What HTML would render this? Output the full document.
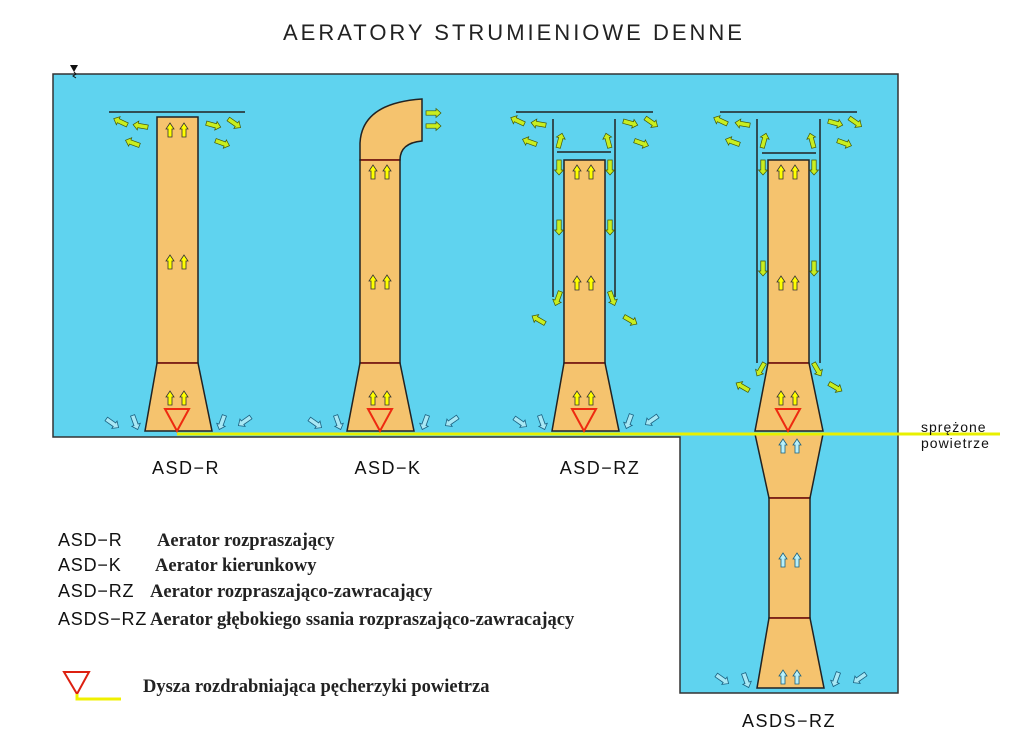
<!DOCTYPE html>
<html><head><meta charset="utf-8"><style>
html,body{margin:0;padding:0;background:#fff;}
svg{display:block}
</style></head><body>
<svg width="1013" height="740" viewBox="0 0 1013 740" xmlns="http://www.w3.org/2000/svg">
<defs>
<path id="up" d="M0,-7 L4,-1 L2,-1 L2,7 L-2,7 L-2,-1 L-4,-1 Z" fill="#ffff00" stroke="#333" stroke-width="0.8"/>
<path id="bup" d="M0,-7 L4,-1 L2,-1 L2,7 L-2,7 L-2,-1 L-4,-1 Z" fill="#b8f0fa" stroke="#1a6080" stroke-width="0.8"/>
<path id="fl" d="M8,0 L3,-4.5 L3,-2.2 L-7,-2.2 L-7,2.2 L3,2.2 L3,4.5 Z" fill="#c8ee20" stroke="#445500" stroke-width="0.7"/>
<path id="bfl" d="M8,0 L3,-4.5 L3,-2.2 L-7,-2.2 L-7,2.2 L3,2.2 L3,4.5 Z" fill="#a8e8f5" stroke="#1a6080" stroke-width="0.8"/>
</defs>
<text x="514" y="40" font-family="Liberation Sans, sans-serif" font-size="22" text-anchor="middle" fill="#222" letter-spacing="3">AERATORY STRUMIENIOWE DENNE</text>
<path d="M53,74 L898,74 L898,693 L680,693 L680,437 L53,437 Z" fill="#5fd3ef" stroke="#333" stroke-width="1.5"/>
<path d="M70,65 L78,65 L74,72 Z" fill="#111"/>
<path d="M74,72 l2,2 l-3,2 l3,2" stroke="#111" fill="none"/>
<g stroke="#222" stroke-width="1.5" fill="#f5c36e">
<line x1="109" y1="112" x2="245" y2="112"/>
<rect x="157" y="117" width="41" height="246"/>
<path d="M157,363 L198,363 L212,431 L145,431 Z"/>
<path d="M360,160 L360,143 Q362,103 422,99 L422,141 Q400,143 400,160 Z"/>
<rect x="360" y="160" width="40" height="203"/>
<path d="M360,363 L400,363 L414,431 L347,431 Z"/>
<line x1="516" y1="112" x2="653" y2="112"/>
<line x1="557" y1="152" x2="611" y2="152"/>
<line x1="553" y1="119" x2="553" y2="297" fill="none"/>
<line x1="615" y1="119" x2="615" y2="297" fill="none"/>
<rect x="564" y="160" width="41" height="203"/>
<path d="M564,363 L605,363 L619,431 L552,431 Z"/>
<line x1="720" y1="112" x2="857" y2="112"/>
<line x1="762" y1="153" x2="816" y2="153"/>
<line x1="757" y1="119" x2="757" y2="363"/>
<line x1="820" y1="119" x2="820" y2="363"/>
<rect x="768" y="160" width="41" height="203"/>
<path d="M768,363 L809,363 L823,431 L755,431 Z"/>
<path d="M755,434 L823,434 L810,498 L769,498 Z"/>
<rect x="769" y="498" width="41" height="120"/>
<path d="M769,618 L810,618 L824,688 L757,688 Z"/>
</g>
<g stroke="#8a1a10" stroke-width="1.5">
<line x1="158" y1="363" x2="197" y2="363"/><line x1="361" y1="363" x2="399" y2="363"/>
<line x1="565" y1="363" x2="604" y2="363"/><line x1="769" y1="363" x2="808" y2="363"/>
<line x1="770" y1="498" x2="809" y2="498"/><line x1="770" y1="618" x2="809" y2="618"/>
<line x1="361" y1="160" x2="399" y2="160"/>
</g>
<g fill="none" stroke="#ee2a10" stroke-width="2">
<path d="M165,409 L189,409 L177,431 Z"/><path d="M368,409 L392,409 L380,431 Z"/>
<path d="M572,409 L596,409 L584,431 Z"/><path d="M776,409 L800,409 L788,431 Z"/>
</g>
<line x1="177" y1="434" x2="1000" y2="434" stroke="#e8f000" stroke-width="3"/>
<g>
<use href="#up" x="170" y="130"/><use href="#up" x="184" y="130"/>
<use href="#up" x="170" y="262"/><use href="#up" x="184" y="262"/>
<use href="#up" x="170" y="398"/><use href="#up" x="184" y="398"/>
<use href="#up" x="373" y="172"/><use href="#up" x="387" y="172"/>
<use href="#up" x="373" y="282"/><use href="#up" x="387" y="282"/>
<use href="#up" x="373" y="398"/><use href="#up" x="387" y="398"/>
<use href="#up" x="577" y="172"/><use href="#up" x="591" y="172"/>
<use href="#up" x="577" y="283"/><use href="#up" x="591" y="283"/>
<use href="#up" x="577" y="398"/><use href="#up" x="591" y="398"/>
<use href="#up" x="781" y="172"/><use href="#up" x="795" y="172"/>
<use href="#up" x="781" y="283"/><use href="#up" x="795" y="283"/>
<use href="#up" x="781" y="398"/><use href="#up" x="795" y="398"/>
<use href="#bup" x="783" y="446"/><use href="#bup" x="797" y="446"/>
<use href="#bup" x="783" y="560"/><use href="#bup" x="797" y="560"/>
<use href="#bup" x="783" y="677"/><use href="#bup" x="797" y="677"/>
</g>
<g>
<use href="#fl" transform="translate(121,122) rotate(-155)"/><use href="#fl" transform="translate(141,126) rotate(-170)"/>
<use href="#fl" transform="translate(133,143) rotate(-160)"/>
<use href="#fl" transform="translate(213,125) rotate(15)"/><use href="#fl" transform="translate(234,123) rotate(35)"/>
<use href="#fl" transform="translate(222,143) rotate(20)"/>
<use href="#fl" transform="translate(433,113)"/><use href="#fl" transform="translate(433,126)"/>
<use href="#fl" transform="translate(518,121) rotate(-155)"/><use href="#fl" transform="translate(539,124) rotate(-170)"/>
<use href="#fl" transform="translate(530,142) rotate(-160)"/>
<use href="#fl" transform="translate(630,123) rotate(15)"/><use href="#fl" transform="translate(651,122) rotate(35)"/>
<use href="#fl" transform="translate(641,143) rotate(20)"/>
<use href="#fl" transform="translate(560,141) rotate(-75)"/><use href="#fl" transform="translate(608,141) rotate(-105)"/>
<use href="#fl" transform="translate(559,167) rotate(90)"/><use href="#fl" transform="translate(610,167) rotate(90)"/>
<use href="#fl" transform="translate(559,227) rotate(90)"/><use href="#fl" transform="translate(610,227) rotate(90)"/>
<use href="#fl" transform="translate(558,298) rotate(110)"/><use href="#fl" transform="translate(612,298) rotate(70)"/>
<use href="#fl" transform="translate(539,320) rotate(-150)"/><use href="#fl" transform="translate(630,320) rotate(30)"/>
<use href="#fl" transform="translate(721,121) rotate(-155)"/><use href="#fl" transform="translate(743,124) rotate(-170)"/>
<use href="#fl" transform="translate(733,142) rotate(-160)"/>
<use href="#fl" transform="translate(835,123) rotate(15)"/><use href="#fl" transform="translate(855,122) rotate(35)"/>
<use href="#fl" transform="translate(844,143) rotate(20)"/>
<use href="#fl" transform="translate(764,141) rotate(-75)"/><use href="#fl" transform="translate(812,141) rotate(-105)"/>
<use href="#fl" transform="translate(763,167) rotate(90)"/><use href="#fl" transform="translate(814,167) rotate(90)"/>
<use href="#fl" transform="translate(763,268) rotate(90)"/><use href="#fl" transform="translate(814,268) rotate(90)"/>
<use href="#fl" transform="translate(761,369) rotate(120)"/><use href="#fl" transform="translate(817,369) rotate(60)"/>
<use href="#fl" transform="translate(743,387) rotate(-150)"/><use href="#fl" transform="translate(835,387) rotate(30)"/>
</g>
<g>
<use href="#bfl" transform="translate(112,423) rotate(35)"/><use href="#bfl" transform="translate(135,422) rotate(70)"/>
<use href="#bfl" transform="translate(222,422) rotate(110)"/><use href="#bfl" transform="translate(245,421) rotate(145)"/>
<use href="#bfl" transform="translate(315,423) rotate(35)"/><use href="#bfl" transform="translate(338,422) rotate(70)"/>
<use href="#bfl" transform="translate(425,422) rotate(110)"/><use href="#bfl" transform="translate(452,421) rotate(145)"/>
<use href="#bfl" transform="translate(520,422) rotate(35)"/><use href="#bfl" transform="translate(542,422) rotate(70)"/>
<use href="#bfl" transform="translate(629,421) rotate(110)"/><use href="#bfl" transform="translate(652,420) rotate(145)"/>
<use href="#bfl" transform="translate(722,679) rotate(35)"/><use href="#bfl" transform="translate(746,680) rotate(70)"/>
<use href="#bfl" transform="translate(836,679) rotate(110)"/><use href="#bfl" transform="translate(860,678) rotate(145)"/>
</g>
<g font-family="Liberation Sans, sans-serif" fill="#111">
<text x="186" y="474" font-size="18" text-anchor="middle" letter-spacing="1.5">ASD−R</text>
<text x="388" y="474" font-size="18" text-anchor="middle" letter-spacing="1.5">ASD−K</text>
<text x="600" y="474" font-size="18" text-anchor="middle" letter-spacing="1.5">ASD−RZ</text>
<text x="789" y="727" font-size="18" text-anchor="middle" letter-spacing="1.5">ASDS−RZ</text>
<text x="921" y="432" font-size="14" letter-spacing="1">sprężone</text>
<text x="921" y="448" font-size="14" letter-spacing="1">powietrze</text>
<text x="58" y="546" font-size="18" letter-spacing="0.8">ASD−R</text>
<text x="58" y="571" font-size="18" letter-spacing="0.8">ASD−K</text>
<text x="58" y="597" font-size="18" letter-spacing="0.8">ASD−RZ</text>
<text x="58" y="625" font-size="18" letter-spacing="0.8">ASDS−RZ</text>
</g>
<g font-family="Liberation Serif, serif" font-size="18.5" font-weight="bold" fill="#222">
<text x="157" y="546">Aerator rozpraszający</text>
<text x="155" y="571">Aerator kierunkowy</text>
<text x="150" y="597">Aerator rozpraszająco-zawracający</text>
<text x="150" y="625">Aerator głębokiego ssania rozpraszająco-zawracający</text>
<text x="143" y="692">Dysza rozdrabniająca pęcherzyki powietrza</text>
</g>
<path d="M64,672 L89,672 L77,694 Z" fill="none" stroke="#dd2010" stroke-width="2"/>
<path d="M77,694 L77,699 L121,699" fill="none" stroke="#f0f000" stroke-width="3"/>
</svg>
</body></html>
